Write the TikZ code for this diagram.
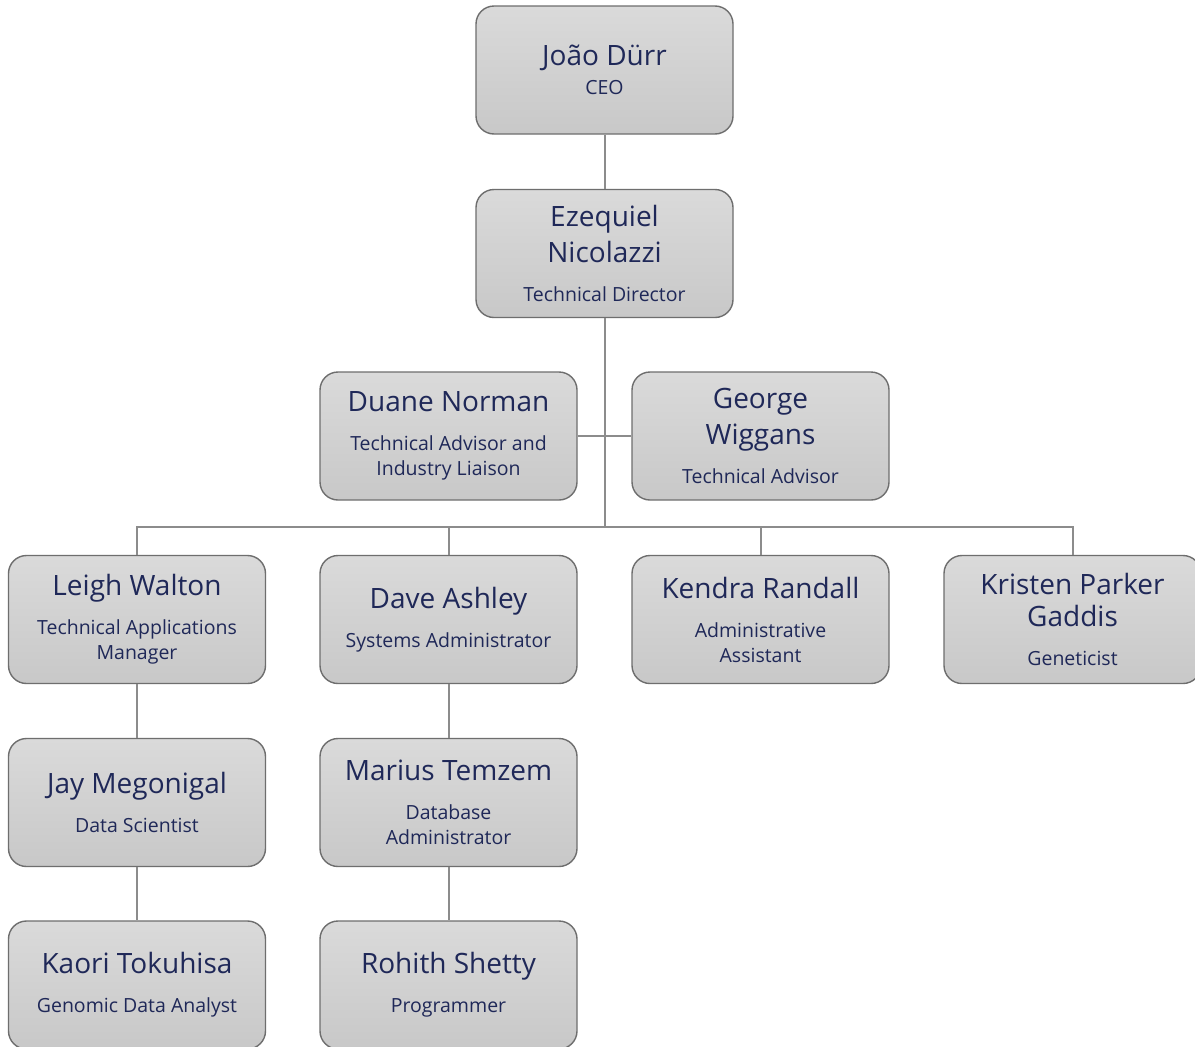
\documentclass[tikz,border=0pt]{standalone}
\usepackage{fontspec}
\setmainfont{Open Sans}
\definecolor{navy}{HTML}{1F2858}
\definecolor{boxline}{HTML}{6E6E6E}
\definecolor{linegray}{HTML}{8C8C8C}
\definecolor{boxtop}{HTML}{DADADA}
\definecolor{boxbot}{HTML}{C8C8C8}
\newcommand\nm[1]{{\fontsize{28}{34}\selectfont #1}}
\newcommand\rl[1]{{\fontsize{19.5}{25}\selectfont #1}}
\begin{document}
\begin{tikzpicture}[x=1pt,y=-1pt,
  box/.style={draw=boxline, line width=1.4pt, rounded corners=18pt,
    top color=boxtop, bottom color=boxbot, minimum width=257pt,
    minimum height=128pt, align=center, text=navy, inner sep=2pt,
    font=\fontsize{19.5}{25}\selectfont},
  conn/.style={draw=linegray, line width=2pt}]
\useasboundingbox (0,0) rectangle (1195,1047);
\fill[white] (0,0) rectangle (1195,1047);

\node[box] (ceo) at (604.5,70) {\nm{João Dürr}\\[4pt]\rl{CEO}};
\node[box] (ez) at (604.5,253.5) {\nm{Ezequiel}\\[7pt]\nm{Nicolazzi}\\[14pt]\rl{Technical Director}};
\node[box] (duane) at (448.5,436) {\nm{Duane Norman}\\[14pt]\rl{Technical Advisor and}\\\rl{Industry Liaison}};
\node[box] (george) at (760.5,436) {\nm{George}\\[7pt]\nm{Wiggans}\\[14pt]\rl{Technical Advisor}};
\node[box] (leigh) at (137,619.5) {\nm{Leigh Walton}\\[14pt]\rl{Technical Applications}\\\rl{Manager}};
\node[box] (dave) at (448.5,619.5) {\nm{Dave Ashley}\\[14pt]\rl{Systems Administrator}};
\node[box] (kendra) at (760.5,619.5) {\nm{Kendra Randall}\\[14pt]\rl{Administrative}\\\rl{Assistant}};
\node[box] (kristen) at (1072.5,619.5) {\nm{Kristen Parker}\\[7pt]\nm{Gaddis}\\[14pt]\rl{Geneticist}};
\node[box] (jay) at (137,802.5) {\nm{Jay Megonigal}\\[14pt]\rl{Data Scientist}};
\node[box] (marius) at (448.5,802.5) {\nm{Marius Temzem}\\[14pt]\rl{Database}\\\rl{Administrator}};
\node[box] (kaori) at (137,985) {\nm{Kaori Tokuhisa}\\[14pt]\rl{Genomic Data Analyst}};
\node[box] (rohith) at (448.5,985) {\nm{Rohith Shetty}\\[14pt]\rl{Programmer}};

\coordinate (bus) at (604.5,527);
\draw[conn] (ceo.south) -- (ez.north);
\draw[conn] (ez.south) -- (bus);
\draw[conn] (duane.east) -- (george.west);
\draw[conn] (leigh.north) |- (bus);
\draw[conn] (kristen.north) |- (bus);
\draw[conn] (dave.north) -- (dave.north |- bus);
\draw[conn] (kendra.north) -- (kendra.north |- bus);
\draw[conn] (leigh.south) -- (jay.north);
\draw[conn] (jay.south) -- (kaori.north);
\draw[conn] (dave.south) -- (marius.north);
\draw[conn] (marius.south) -- (rohith.north);
\end{tikzpicture}
\end{document}
